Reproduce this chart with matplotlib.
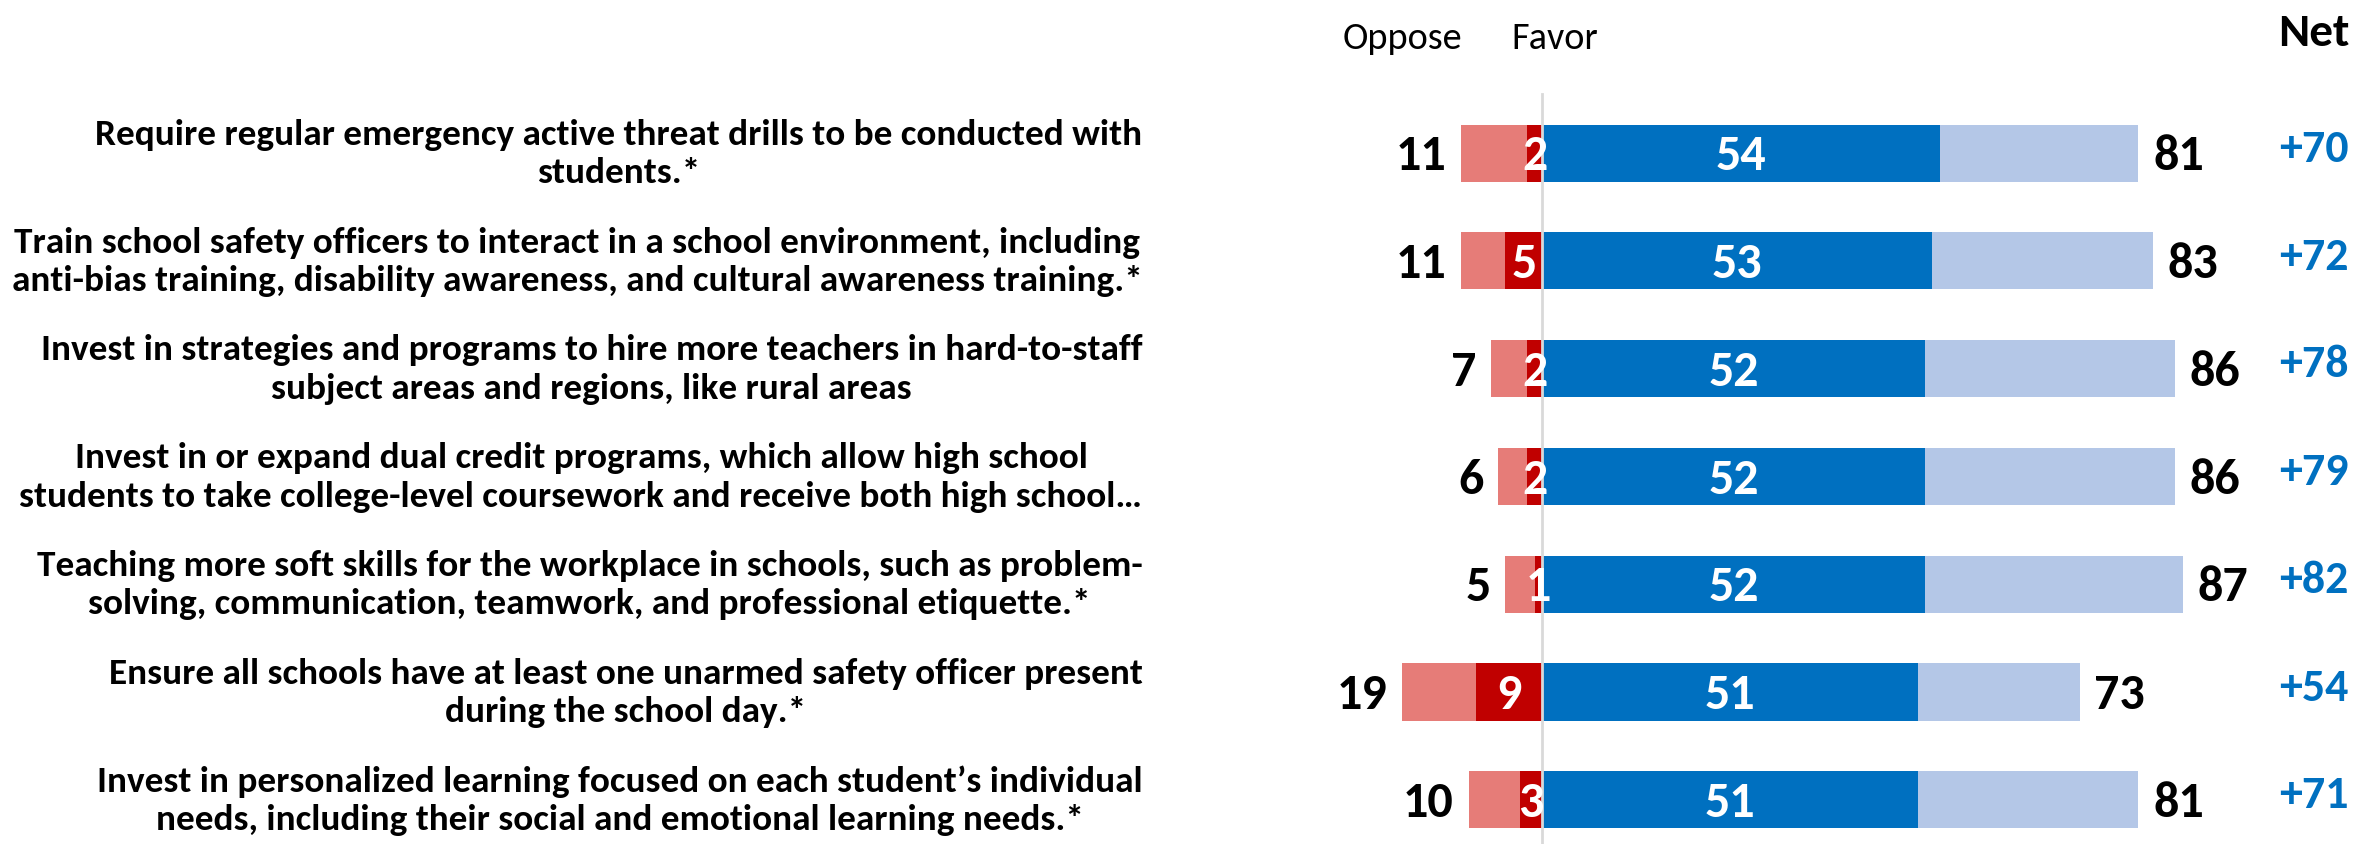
import matplotlib
matplotlib.use("Agg")
import matplotlib.pyplot as plt

plt.rcParams['font.family'] = ['Carlito', 'Liberation Sans', 'DejaVu Sans']

# 数据
questions = [
    "Require regular emergency active threat drills to be conducted with\nstudents.*",
    "Train school safety officers to interact in a school environment, including\nanti-bias training, disability awareness, and cultural awareness training.*",
    "Invest in strategies and programs to hire more teachers in hard-to-staff\nsubject areas and regions, like rural areas",
    "Invest in or expand dual credit programs, which allow high school\nstudents to take college-level coursework and receive both high school\u2026",
    "Teaching more soft skills for the workplace in schools, such as problem-\nsolving, communication, teamwork, and professional etiquette.*",
    "Ensure all schools have at least one unarmed safety officer present\nduring the school day.*",
    "Invest in personalized learning focused on each student\u2019s individual\nneeds, including their social and emotional learning needs.*",
]
oppose_total = [11, 11, 7, 6, 5, 19, 10]
oppose_strong = [2, 5, 2, 2, 1, 9, 3]
favor_strong = [54, 53, 52, 52, 52, 51, 51]
favor_total = [81, 83, 86, 86, 87, 73, 81]
net = ["+70", "+72", "+78", "+79", "+82", "+54", "+71"]

c_opp_light = "#E67C78"
c_opp_dark = "#C00000"
c_fav_dark = "#0070C0"
c_fav_light = "#B4C7E7"

fig = plt.figure(figsize=(23.71, 8.45), dpi=100)
ax = fig.add_axes([0, 0, 1, 1])
ax.set_xlim(-209.5, 112.6)
ax.set_ylim(6.41, -1.43)
ax.axis("off")

y = list(range(len(questions)))
h = 0.53

ax.barh(y, [-v for v in oppose_total], height=h, color=c_opp_light)
ax.barh(y, [-v for v in oppose_strong], height=h, color=c_opp_dark)
ax.barh(y, favor_total, height=h, color=c_fav_light)
ax.barh(y, favor_strong, height=h, color=c_fav_dark)
ax.plot([0, 0], [-0.55, 6.41], color="#D9D9D9", lw=2, zorder=5)

for i in y:
    ax.text(-54.3, i, questions[i], ha="right", va="center", multialignment="center",
            fontsize=26.8, fontweight="bold", linespacing=1.25)
    ax.text(-oppose_total[i] - 2, i + 0.02, str(oppose_total[i]), ha="right", va="center",
            fontsize=36, fontweight="bold")
    ax.text(-oppose_strong[i] / 2, i + 0.02, str(oppose_strong[i]), ha="center", va="center",
            fontsize=36, fontweight="bold", color="white", zorder=6)
    ax.text(favor_strong[i] / 2, i + 0.02, str(favor_strong[i]), ha="center", va="center",
            fontsize=36, fontweight="bold", color="white")
    ax.text(favor_total[i] + 2, i + 0.02, str(favor_total[i]), ha="left", va="center",
            fontsize=36, fontweight="bold")
    ax.text(104.8, i - 0.05, net[i], ha="center", va="center",
            fontsize=33, fontweight="bold", color=c_fav_dark)

ax.text(-19, -1.07, "Oppose", ha="center", va="center", fontsize=27.5)
ax.text(1.7, -1.07, "Favor", ha="center", va="center", fontsize=27.5)
ax.text(104.8, -1.12, "Net", ha="center", va="center", fontsize=34, fontweight="bold")

fig.savefig("out.png", dpi=100)
